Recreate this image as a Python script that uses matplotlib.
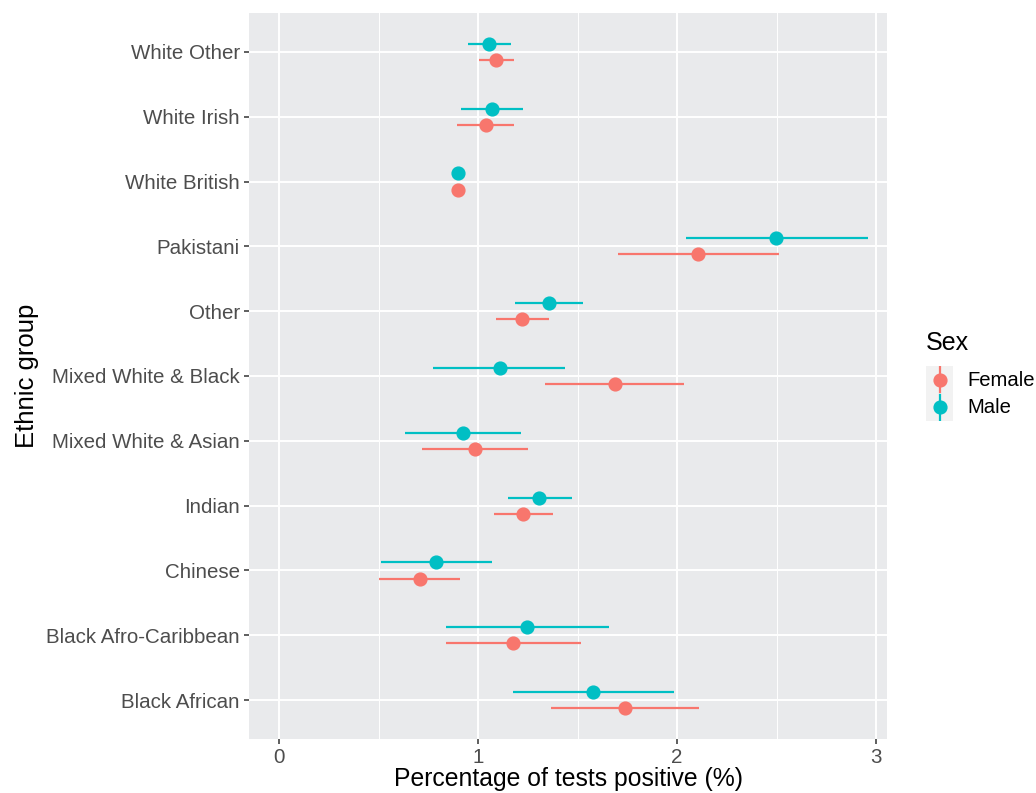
import numpy as np
import matplotlib
matplotlib.use("Agg")
import matplotlib.pyplot as plt

plt.rcParams['font.family'] = ['Liberation Sans', 'DejaVu Sans']

# bottom to top, as on the chart
groups = ["Black African", "Black Afro-Caribbean", "Chinese", "Indian",
          "Mixed White & Asian", "Mixed White & Black", "Other", "Pakistani",
          "White British", "White Irish", "White Other"]

female = [1.736, 1.175, 0.707, 1.226, 0.983, 1.686, 1.222, 2.105, 0.899, 1.038, 1.091]
female_lo = [1.367, 0.838, 0.504, 1.078, 0.719, 1.338, 1.089, 1.703, 0.885, 0.895, 1.004]
female_hi = [2.110, 1.517, 0.911, 1.376, 1.249, 2.036, 1.357, 2.511, 0.913, 1.181, 1.181]

male = [1.578, 1.247, 0.789, 1.308, 0.926, 1.108, 1.357, 2.498, 0.899, 1.070, 1.057]
male_lo = [1.177, 0.838, 0.513, 1.152, 0.635, 0.776, 1.188, 2.044, 0.885, 0.916, 0.951]
male_hi = [1.983, 1.656, 1.072, 1.473, 1.217, 1.437, 1.525, 2.958, 0.913, 1.228, 1.165]

RED = "#F8766D"
CYAN = "#00BFC4"
BG = "#E9EAEC"

fig = plt.figure(figsize=(10.36, 7.93), dpi=100)
ax = fig.add_axes([249/1036, 1 - 739/793, (887-249)/1036, (739-13)/793])
ax.set_facecolor(BG)

y = np.arange(1, len(groups) + 1)
dodge = 0.125

def draw(vals, lo, hi, pos, col):
    vals = np.array(vals)
    err = [vals - np.array(lo), np.array(hi) - vals]
    ax.errorbar(vals, pos, xerr=err, fmt='o', color=col, ecolor=col,
                elinewidth=1.6, markersize=9.2, capsize=0, zorder=3)

draw(female, female_lo, female_hi, y - dodge, RED)
draw(male, male_lo, male_hi, y + dodge, CYAN)

ax.set_xlim(-0.151, 3.055)
ax.set_ylim(0.4, len(groups) + 0.6)
ax.set_yticks(y)
ax.set_yticklabels(groups)
ax.set_xticks([0, 1, 2, 3])
ax.set_xticks([0.5, 1.5, 2.5], minor=True)
ax.grid(which='major', color='white', linewidth=1.4)
ax.grid(which='minor', axis='x', color='white', linewidth=0.7)
ax.set_axisbelow(True)
for s in ax.spines.values():
    s.set_visible(False)
ax.tick_params(axis='both', which='major', length=3.5, width=1.1, color='#333333',
               labelsize=14.8, labelcolor='#4D4D4D', pad=3)
ax.tick_params(which='minor', length=0)
ax.set_xlabel("Percentage of tests positive (%)", fontsize=17.8, labelpad=0)
ax.set_ylabel("Ethnic group", fontsize=18.5, labelpad=5)

# legend (ggplot style keys)
fig.text(926/1036, 1 - 343/793, "Sex", fontsize=18, va='center', ha='left')
lax = fig.add_axes([926/1036, 1 - 421/793, 27/1036, 55/793])
lax.set_xlim(0, 1)
lax.set_ylim(0, 2)
lax.set_facecolor('#F2F2F2')
for s in lax.spines.values():
    s.set_visible(False)
lax.set_xticks([])
lax.set_yticks([])
for k, (lab, col) in enumerate([("Female", RED), ("Male", CYAN)]):
    yc = 1.5 - k
    lax.plot([0.5, 0.5], [yc - 0.45, yc + 0.45], color=col, lw=1.6)
    lax.plot(0.5, yc, 'o', color=col, markersize=9.2)
    fig.text(967/1036, 1 - (380 + 27*k)/793, lab, fontsize=14.6, va='center', ha='left')

fig.savefig("out.png", dpi=100)
